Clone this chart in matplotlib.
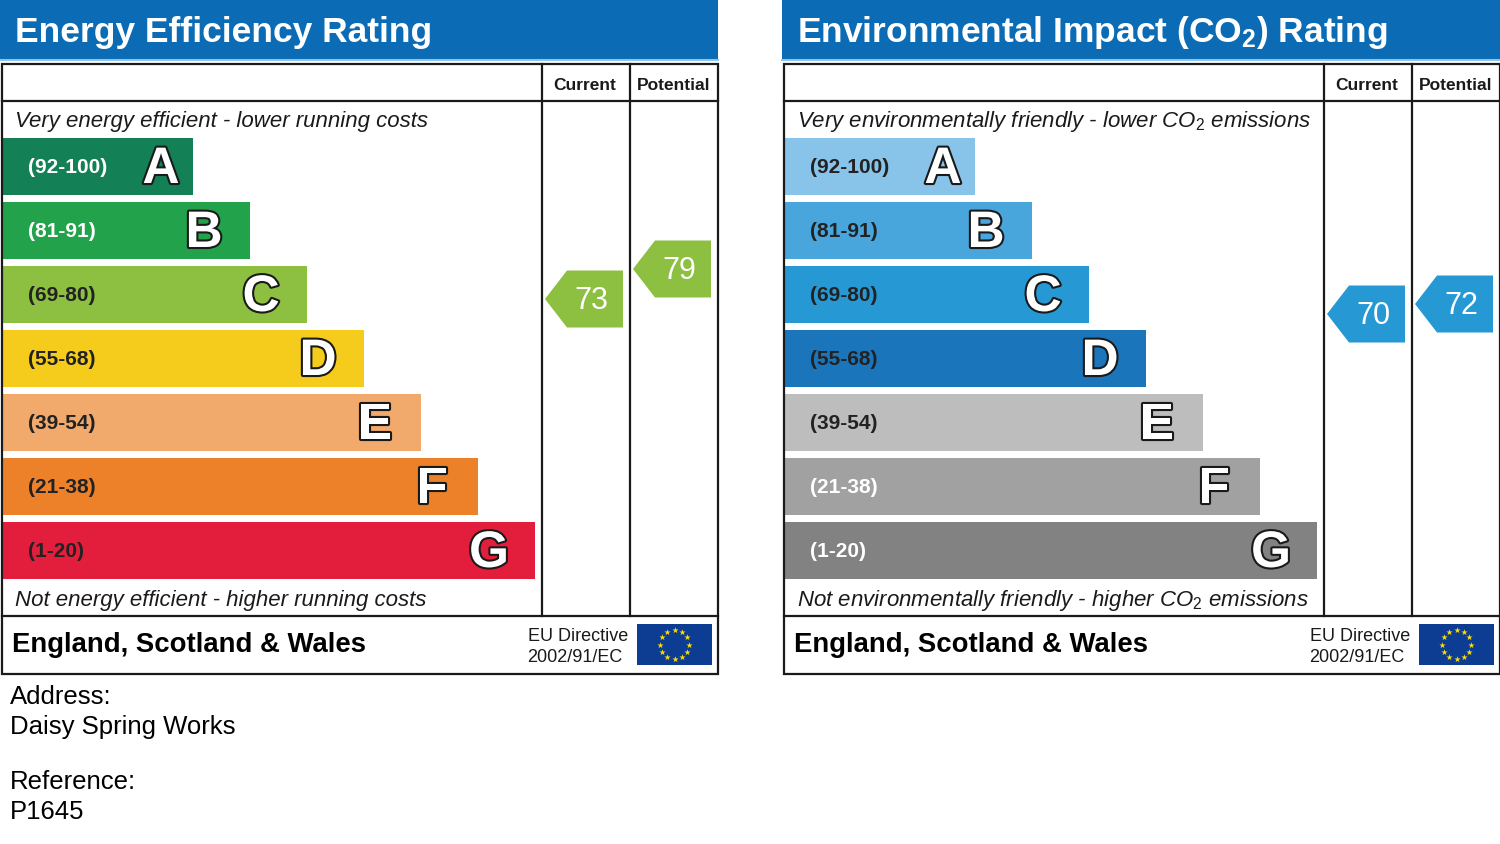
import numpy as np
import matplotlib.pyplot as plt
from matplotlib.patches import Rectangle, Polygon
import matplotlib.patheffects as pe

plt.rcParams['font.family'] = ['Liberation Sans', 'DejaVu Sans']
plt.rcParams['mathtext.fontset'] = 'custom'
plt.rcParams['mathtext.rm'] = 'Liberation Sans'
plt.rcParams['mathtext.it'] = 'Liberation Sans:italic'
plt.rcParams['mathtext.bf'] = 'Liberation Sans:bold'

# data
bands = ['A', 'B', 'C', 'D', 'E', 'F', 'G']
ranges = ['(92-100)', '(81-91)', '(69-80)', '(55-68)', '(39-54)', '(21-38)', '(1-20)']
band_lows = [92, 81, 69, 55, 39, 21, 1]

ee_colors = ['#138055', '#22a34b', '#8dbf41', '#f5cc1b', '#f2a96c', '#ed8129', '#e31d3c']
ee_label_colors = ['white', 'white', '#222222', '#222222', '#222222', '#222222', '#222222']
ee_current = 73
ee_potential = 79

ei_colors = ['#88c3e9', '#48a6dc', '#2699d5', '#1a75bb', '#bdbdbd', '#a1a1a1', '#828282']
ei_label_colors = ['#222222', '#222222', '#222222', '#222222', '#222222', 'white', 'white']
ei_current = 70
ei_potential = 72

address = 'Daisy Spring Works'
reference = 'P1645'

header_blue = '#0b6cb5'

fig = plt.figure(figsize=(15, 8.45), dpi=100)
ax = fig.add_axes([0, 0, 1, 1])
ax.set_xlim(0, 1500)
ax.set_ylim(845, 0)
ax.axis('off')


def rating(score):
    for b, lo in zip(bands, band_lows):
        if score >= lo:
            return b
    return 'G'


def score_y(score):
    # vertical centre of an arrow for a given score
    return 665 - 5 * score


def arrow(xl, xr, score, color):
    yc = score_y(score)
    h = 28.5
    pts = [(xl, yc), (xl + 22, yc - h), (xr, yc - h), (xr, yc + h), (xl + 22, yc + h)]
    ax.add_patch(Polygon(pts, closed=True, facecolor=color, edgecolor='none', zorder=3))
    ax.text(xl + 46, yc + 1, str(score), color='white', fontsize=22,
            ha='center', va='center', zorder=4)


def eu_flag(x, y, w, h):
    ax.add_patch(Rectangle((x, y), w, h, facecolor='#0d3d92', edgecolor='none', zorder=3))
    ang = np.linspace(0, 2 * np.pi, 13)[:-1]
    cx, cy = x + w / 2, y + h / 2
    r = h * 0.36
    ax.scatter(cx + r * np.cos(ang), cy + r * np.sin(ang), marker='*', s=22,
               color='#ffdd00', linewidths=0, zorder=4)


def panel(x0, title, colors, label_colors, top_text, bottom_text, current, potential):
    # header
    ax.add_patch(Rectangle((x0, 0), 718, 60, facecolor=header_blue, edgecolor='none'))
    ax.plot([x0, x0 + 718], [61, 61], color='#8ec3ea', lw=1.5)
    ax.text(x0 + 15, 42, title, color='white', fontsize=25.5, fontweight='bold',
            ha='left', va='baseline')

    # frame
    ax.add_patch(Rectangle((x0 + 2, 65), 716, 610, facecolor='none',
                           edgecolor='#1a1a1a', lw=1.6, zorder=5))
    ax.plot([x0 + 2, x0 + 718], [102, 102], color='#1a1a1a', lw=1.6, zorder=5)
    ax.plot([x0 + 2, x0 + 718], [617, 617], color='#1a1a1a', lw=1.6, zorder=5)
    for cx in (542, 630):
        ax.plot([x0 + cx, x0 + cx], [65, 617], color='#1a1a1a', lw=1.6, zorder=5)
    ax.text(x0 + 585, 85, 'Current', fontsize=12.5, fontweight='bold',
            ha='center', va='center', color='#1a1a1a')
    ax.text(x0 + 674, 85, 'Potential', fontsize=12.5, fontweight='bold',
            ha='center', va='center', color='#1a1a1a')

    ax.text(x0 + 15, 127, top_text, fontsize=16, style='italic',
            ha='left', va='baseline', color='#1a1a1a')
    ax.text(x0 + 15, 606, bottom_text, fontsize=16, style='italic',
            ha='left', va='baseline', color='#1a1a1a')

    # bands
    for i, (band, rng) in enumerate(zip(bands, ranges)):
        top = 139 + 64 * i
        w = 191 + 57 * i
        ax.add_patch(Rectangle((x0 + 2, top), w, 57, facecolor=colors[i],
                               edgecolor='none', zorder=2))
        ax.text(x0 + 28, top + 28.5, rng, fontsize=15, fontweight='bold',
                color=label_colors[i], ha='left', va='center', zorder=3)
        off = 32 if i == 0 else 46
        t = ax.text(x0 + 2 + w - off, top + 31.5, band, fontsize=37, fontweight='bold',
                    color='white', ha='center', va='center', zorder=3)
        t.set_path_effects([pe.withStroke(linewidth=3, foreground='#1a1a1a')])

    # arrows
    arrow(x0 + 545, x0 + 623, current, colors[bands.index(rating(current))])
    arrow(x0 + 633, x0 + 711, potential, colors[bands.index(rating(potential))])

    # footer
    ax.text(x0 + 12, 645, 'England, Scotland & Wales', fontsize=19.8, fontweight='bold',
            ha='left', va='center', color='black')
    ax.text(x0 + 628, 637, 'EU Directive', fontsize=13, ha='right', va='center',
            color='#1a1a1a')
    ax.text(x0 + 622, 658, '2002/91/EC', fontsize=13, ha='right', va='center',
            color='#1a1a1a')
    eu_flag(x0 + 637, 625, 75, 41)


panel(0, 'Energy Efficiency Rating', ee_colors, ee_label_colors,
      'Very energy efficient - lower running costs',
      'Not energy efficient - higher running costs',
      ee_current, ee_potential)

panel(782, r'Environmental Impact (CO$_\mathbf{2}$) Rating', ei_colors, ei_label_colors,
      r'Very environmentally friendly - lower CO$_2$ emissions',
      r'Not environmentally friendly - higher CO$_2$ emissions',
      ei_current, ei_potential)

ax.text(10, 697, 'Address:', fontsize=18.5, ha='left', va='center', color='black')
ax.text(10, 727, address, fontsize=18.5, ha='left', va='center', color='black')
ax.text(10, 782, 'Reference:', fontsize=18.5, ha='left', va='center', color='black')
ax.text(10, 812, reference, fontsize=18.5, ha='left', va='center', color='black')

fig.savefig('out.png', dpi=100, facecolor='white')
